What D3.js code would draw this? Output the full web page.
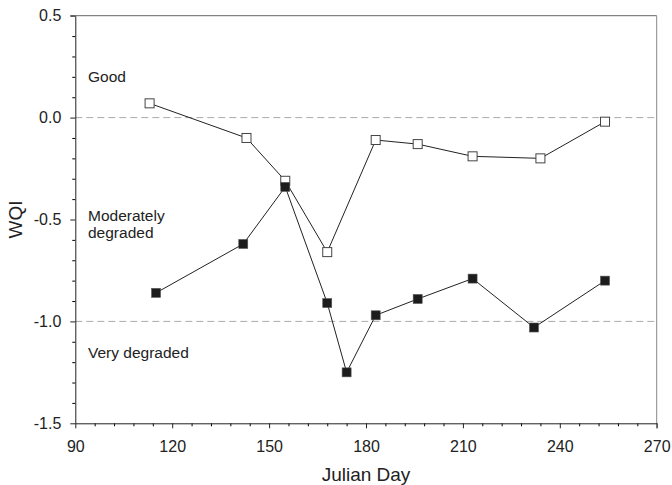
<!DOCTYPE html>
<html>
<head>
<meta charset="utf-8">
<script src="https://cdn.jsdelivr.net/npm/d3@7"></script>
<style>
  body { margin: 0; background: #fff; }
  svg { font-family: "Liberation Sans", Arial, sans-serif; }
</style>
</head>
<body>
<div id="chart"></div>
<script>
// data
var goodDays = [113, 143, 155, 168, 183, 196, 213, 234, 254];
var goodWqi  = [0.07, -0.10, -0.31, -0.66, -0.11, -0.13, -0.19, -0.20, -0.02];

var poorDays = [115, 142, 155, 168, 174, 183, 196, 213, 232, 254];
var poorWqi  = [-0.86, -0.62, -0.34, -0.91, -1.25, -0.97, -0.89, -0.79, -1.03, -0.80];

var xTicks = [90, 120, 150, 180, 210, 240, 270];
var yTicks = [0.5, 0.0, -0.5, -1.0, -1.5];
var refLines = [0.0, -1.0];
var zoneLabels = [
    {lines: ['Good'], value: 0.20},
    {lines: ['Moderately', 'degraded'], value: -0.478},
    {lines: ['Very degraded'], value: -1.15}
];

var width = 672, height = 485;
var x = d3.scaleLinear().domain([90, 270]).range([75.3, 656.7]);
var y = d3.scaleLinear().domain([-1.5, 0.5]).range([423.3, 15.7]);

var svg = d3.select('#chart').append('svg')
    .attr('width', width)
    .attr('height', height);

// reference lines
svg.append('g').selectAll('line')
    .data(refLines)
  .enter().append('line')
    .attr('x1', x(90)).attr('x2', x(270))
    .attr('y1', d => y(d)).attr('y2', d => y(d))
    .attr('stroke', '#aaa')
    .attr('stroke-width', 1)
    .attr('stroke-dasharray', '7,4');

// frame top / right
svg.append('line')
    .attr('x1', x(90) - 5).attr('x2', x(270))
    .attr('y1', y(0.5)).attr('y2', y(0.5))
    .attr('stroke', '#666');
svg.append('line')
    .attr('x1', x(270)).attr('x2', x(270))
    .attr('y1', y(0.5)).attr('y2', y(-1.5) + 5)
    .attr('stroke', '#888');

// minor ticks
var xMinor = d3.range(90, 271, 6).filter(d => xTicks.indexOf(d) < 0);
var yMinor = d3.range(-15, 6).map(d => d / 10).filter(d => Math.abs(d * 2 - Math.round(d * 2)) > 1e-6);

svg.append('g')
    .attr('transform', 'translate(0,' + y(-1.5) + ')')
    .call(d3.axisBottom(x).tickValues(xMinor).tickSize(3).tickFormat(''))
    .call(g => g.select('.domain').remove());
svg.append('g')
    .attr('transform', 'translate(' + x(90) + ',0)')
    .call(d3.axisLeft(y).tickValues(yMinor).tickSize(3).tickFormat(''))
    .call(g => g.select('.domain').remove());

// major axes
var xAxis = svg.append('g')
    .attr('transform', 'translate(0,' + y(-1.5) + ')')
    .call(d3.axisBottom(x).tickValues(xTicks).tickSizeInner(5).tickSizeOuter(0).tickPadding(12));
var yAxis = svg.append('g')
    .attr('transform', 'translate(' + x(90) + ',0)')
    .call(d3.axisLeft(y).tickValues(yTicks).tickSizeInner(5).tickSizeOuter(0).tickPadding(9)
        .tickFormat(d => d.toFixed(1)));

[xAxis, yAxis].forEach(a => {
    a.selectAll('text').attr('font-size', 16).attr('fill', '#222')
        .attr('font-family', '"Liberation Sans", Arial, sans-serif');
    a.selectAll('line').attr('stroke', '#222');
    a.select('.domain').attr('stroke', '#222');
});

// axis titles
svg.append('text')
    .attr('x', 366).attr('y', 481)
    .attr('text-anchor', 'middle')
    .attr('font-size', 19)
    .attr('fill', '#222')
    .text('Julian Day');
svg.append('text')
    .attr('transform', 'translate(22,' + y(-0.5) + ') rotate(-90)')
    .attr('text-anchor', 'middle')
    .attr('font-size', 19)
    .attr('fill', '#222')
    .text('WQI');

// zone labels (value = vertical centre of first line)
zoneLabels.forEach(z => {
    var t = svg.append('text')
        .attr('x', 88)
        .attr('y', y(z.value))
        .attr('font-size', 15.5)
        .attr('fill', '#222');
    z.lines.forEach((l, i) => {
        t.append('tspan')
            .attr('x', 88)
            .attr('dy', i === 0 ? '0.36em' : 17)
            .text(l);
    });
});

// series
var line = d3.line().x(d => x(d[0])).y(d => y(d[1]));
var good = d3.zip(goodDays, goodWqi);
var poor = d3.zip(poorDays, poorWqi);
var s = 9;

svg.append('path').datum(good)
    .attr('d', line).attr('fill', 'none')
    .attr('stroke', '#222').attr('stroke-width', 1);
svg.append('g').selectAll('rect')
    .data(good)
  .enter().append('rect')
    .attr('x', d => x(d[0]) - s / 2)
    .attr('y', d => y(d[1]) - s / 2)
    .attr('width', s).attr('height', s)
    .attr('fill', '#fff')
    .attr('stroke', '#444')
    .attr('stroke-width', 1);

svg.append('path').datum(poor)
    .attr('d', line).attr('fill', 'none')
    .attr('stroke', '#222').attr('stroke-width', 1);
svg.append('g').selectAll('rect')
    .data(poor)
  .enter().append('rect')
    .attr('x', d => x(d[0]) - s / 2)
    .attr('y', d => y(d[1]) - s / 2)
    .attr('width', s).attr('height', s)
    .attr('fill', '#1c1c1c')
    .attr('stroke', '#555')
    .attr('stroke-width', 0.6);
</script>
</body>
</html>
